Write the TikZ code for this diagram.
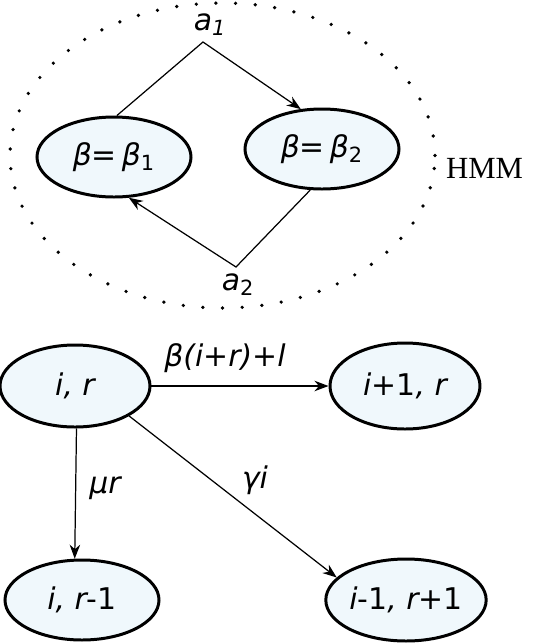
\documentclass[tikz,border=0pt]{standalone}
\usepackage{fontspec}
\setmainfont{DejaVu Sans}
\newfontfamily\hmmfont{Liberation Serif}
\usetikzlibrary{arrows.meta, shapes.geometric}
\definecolor{state-fill}{HTML}{F0F8FC}

\begin{document}
\begin{tikzpicture}[every node/.style={font=\fontsize{17}{20}\selectfont\itshape},
    state/.style={draw, ellipse, line width=1.7pt, fill=state-fill,
      inner sep=0pt, minimum width=3cm, minimum height=1.64cm},
    every path/.style={line width=0.7pt},
    >={Stealth[length=8pt, width=6pt]}]
    \useasboundingbox (0,0) rectangle (10.8,-12.86);
    % switching between the two beta values
    \draw[line width=2.1pt, line cap=round, dash pattern=on 0pt off 11.2pt]
      (4.45,-3.11) ellipse [x radius=4.25, y radius=3.05];
    \node[state, minimum width=3.08cm, minimum height=1.6cm] (b1) at (2.28,-3.14)
      {β{\upshape =\,}β{\upshape\textsubscript{1}}\hspace{0.35cm}};
    \node[state, minimum width=3.08cm, minimum height=1.6cm] (b2) at (6.44,-2.98)
      {β{\upshape =\,}β{\upshape\textsubscript{2}}\hspace{0.2cm}};
    \node (a1) at (4.2,-0.5) {a\textsubscript{1}};
    \node (a2) at (4.76,-5.7) {a{\upshape\textsubscript{2}}};
    \coordinate (t1) at (4.06,-0.84);
    \coordinate (t2) at (4.72,-5.34);
    \draw[->] (b1.86) -- (t1) -- (b2.118);
    \draw[->] (b2.254) -- (t2) -- (b1.290);
    \node[font=\fontsize{17.5}{20}\selectfont\hmmfont] (hmm) at (9.69,-3.36) {HMM};
    % transitions of the chain
    \node[state] (ir) at (1.5,-7.72) {i, r};
    \node[state, minimum height=1.72cm] (ip) at (8.1,-7.72) {i{\upshape +1}, r};
    \node[state, minimum width=3.08cm, minimum height=1.6cm] (im) at (1.64,-12.0)
      {i, r{\upshape -1}\hspace{0.6cm}};
    \node[state] (ic) at (8.12,-12.0) {i{\upshape -1}, r{\upshape +1}};
    \draw[->] (ir.east) -- (ip.west);
    \draw[->] (ir.272) -- (im.100);
    \draw[->] (ir.331) -- (ic.162);
    \node (lb) at (4.5,-7.16) {β(i{\upshape +}r){\upshape +}l};
    \node (lm) at (2.1,-9.76) {μr};
    \node (lg) at (5.1,-9.6) {γi};
\end{tikzpicture}
\end{document}
